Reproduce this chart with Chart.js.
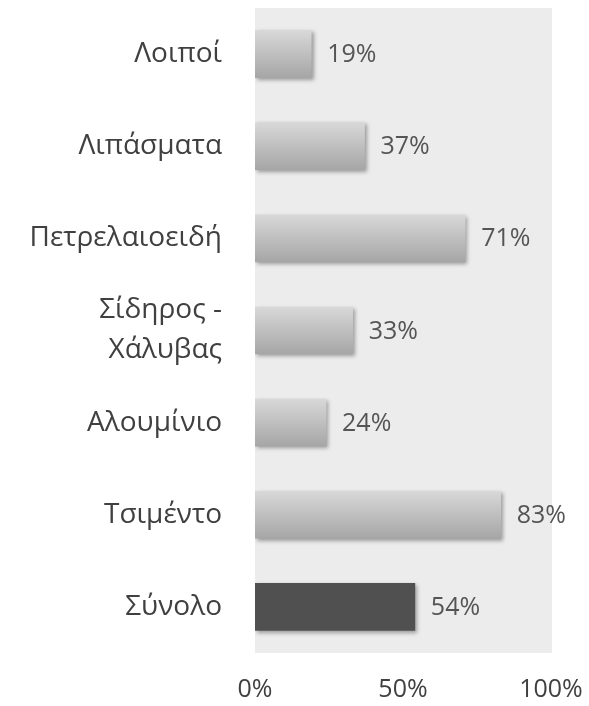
<!DOCTYPE html>
<html>
<head>
<meta charset="utf-8">
<script src="https://cdn.jsdelivr.net/npm/chart.js@4"></script>
<style>
  html, body { margin: 0; padding: 0; background: #fff; }
  #wrap { width: 589px; height: 706px; }
</style>
</head>
<body>
<div id="wrap"><canvas id="chart"></canvas></div>
<script>
const categories = ["Λοιποί", "Λιπάσματα", "Πετρελαιοειδή", ["Σίδηρος -", "Χάλυβας"], "Αλουμίνιο", "Τσιμέντο", "Σύνολο"];
const shares = [19, 37, 71, 33, 24, 83, 54];
const tickValues = [0, 50, 100];

const FONT = "'Open Sans', 'Noto Sans', sans-serif";
const BAR_H = 47;

// light gradient bars, the total is solid dark
function barColor(c) {
  if (c.dataIndex === shares.length - 1) return "#505050";
  const chart = c.chart;
  if (!chart.chartArea) return "#bbbbbb";
  const y = chart.scales.y.getPixelForValue(c.dataIndex);
  const g = chart.ctx.createLinearGradient(0, y - BAR_H / 2, 0, y + BAR_H / 2);
  g.addColorStop(0, "#d8d8d8");
  g.addColorStop(1, "#a6a6a6");
  return g;
}

const plotBg = {
  id: "plotBg",
  beforeDraw(chart) {
    const { ctx, chartArea: a } = chart;
    ctx.save();
    ctx.fillStyle = "#ececec";
    ctx.fillRect(a.left, a.top, a.right - a.left + 1, a.bottom - a.top);
    ctx.restore();
  }
};

const barShadow = {
  id: "barShadow",
  beforeDatasetsDraw(chart) {
    const ctx = chart.ctx;
    ctx.save();
    ctx.shadowColor = "rgba(0,0,0,0.35)";
    ctx.shadowBlur = 4;
    ctx.shadowOffsetX = 2;
    ctx.shadowOffsetY = 2;
  },
  afterDatasetsDraw(chart) {
    chart.ctx.restore();
  }
};

const valueLabels = {
  id: "valueLabels",
  afterDraw(chart) {
    const ctx = chart.ctx;
    const meta = chart.getDatasetMeta(0);
    ctx.save();
    ctx.font = "25px " + FONT;
    ctx.fillStyle = "#555555";
    ctx.textBaseline = "middle";
    ctx.textAlign = "left";
    meta.data.forEach((bar, i) => {
      ctx.fillText(shares[i] + "%", bar.x + 16, bar.y + 1);
    });
    ctx.restore();
  }
};

new Chart(document.getElementById("chart"), {
  type: "bar",
  data: {
    labels: categories,
    datasets: [{
      data: shares,
      backgroundColor: barColor,
      borderWidth: 0,
      barThickness: BAR_H
    }]
  },
  plugins: [plotBg, barShadow, valueLabels],
  options: {
    indexAxis: "y",
    responsive: true,
    maintainAspectRatio: false,
    animation: false,
    layout: { padding: { top: 8, right: 38, left: 0, bottom: 0 } },
    plugins: {
      legend: { display: false },
      tooltip: { enabled: false }
    },
    scales: {
      x: {
        min: 0,
        max: 100,
        afterBuildTicks(axis) {
          axis.ticks = tickValues.map(v => ({ value: v }));
        },
        afterFit(axis) {
          axis.height = 53;
          axis.paddingLeft = 0;
          axis.paddingRight = 0;
        },
        grid: { display: false, drawTicks: false },
        border: { display: false },
        ticks: {
          padding: 22,
          color: "#404040",
          font: { family: FONT, size: 25 },
          maxRotation: 0,
          callback: v => v + "%"
        }
      },
      y: {
        afterFit(axis) {
          axis.width = 255;
          axis.paddingTop = 0;
          axis.paddingBottom = 0;
        },
        grid: { display: false, drawTicks: false },
        border: { display: false },
        ticks: {
          padding: 33,
          color: "#404040",
          font: { family: FONT, size: 28, lineHeight: 1.43 }
        }
      }
    }
  }
});
</script>
</body>
</html>
